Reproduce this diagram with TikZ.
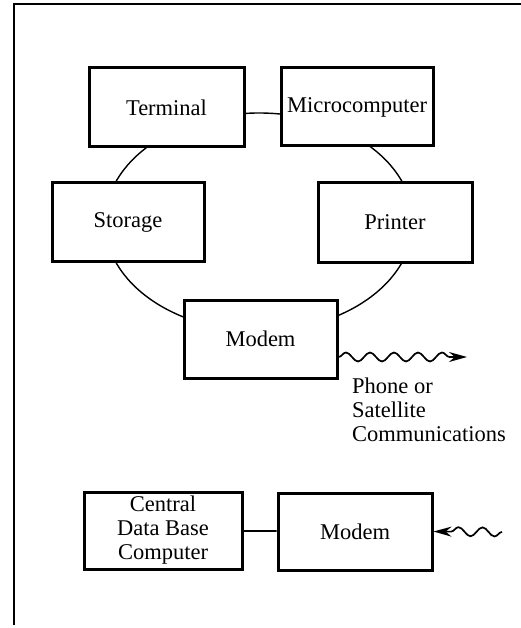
\documentclass[tikz,border=0pt]{standalone}
\usepackage{fontspec}
\setmainfont{Liberation Serif}
\usetikzlibrary{arrows.meta,decorations.pathmorphing}
\begin{document}
\begin{tikzpicture}[x=1pt,y=-1pt,
  unit/.style={draw,line width=3pt,fill=white,inner sep=0pt,align=center,
    font=\fontsize{22.5}{24}\selectfont},
  ring/.style={line width=1.4pt},
  frame/.style={line width=1.6pt},
  link/.style={line width=1.7pt},
  wave/.style={line width=1.7pt,decorate,decoration={snake,segment length=24pt,amplitude=4.5pt,post length=16pt}},
  tip/.style={-{Stealth[length=18pt,width=10pt]}}]
\useasboundingbox (0,0) rectangle (521,628);
\draw[frame] (14,625) -- (14,4) -- (521,4);
\draw[ring] (259,222) ellipse [x radius=154pt, y radius=109pt];
\node[unit,minimum width=155pt,minimum height=79pt] (term) at (166.5,107.5) {Terminal};
\node[unit,minimum width=152pt,minimum height=78pt] (micro) at (357,107) {Microcomputer};
\node[unit,minimum width=152pt,minimum height=78pt] (stor) at (128,222) {Storage};
\node[unit,minimum width=154pt,minimum height=79pt] (prin) at (395,222.5) {Printer};
\node[unit,minimum width=153pt,minimum height=78pt] (modem) at (260.5,339) {Modem};
\node[unit,minimum width=158pt,minimum height=77pt] (cdb) at (163,530.5) {Central\\Data Base\\Computer};
\node[unit,minimum width=154pt,minimum height=77pt] (modem2) at (355,531.5) {Modem};
\draw[link] (cdb) -- (modem2);
\coordinate (wstart) at ([yshift=-18pt]modem.east);
\coordinate (wend) at (467,357);
\draw[wave,tip] (wstart) -- (wend);
\node[anchor=north west,align=left,inner sep=0pt,font=\fontsize{22.5}{24}\selectfont] (lbl) at (352,378) {Phone or\\Satellite\\Communications};
\coordinate (w2start) at (502,532);
\draw[wave,tip] (w2start) -- (modem2.east);
\end{tikzpicture}
\end{document}
